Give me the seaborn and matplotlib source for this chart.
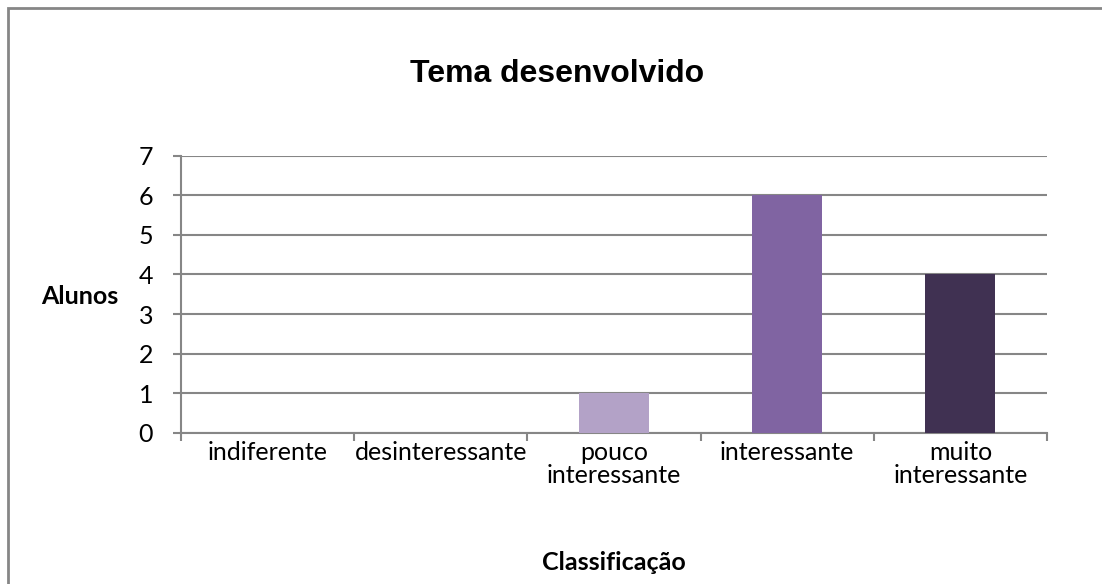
import matplotlib
matplotlib.use("Agg")
import matplotlib.pyplot as plt
import seaborn as sns
import pandas as pd
from matplotlib.patches import Rectangle
from matplotlib.ticker import FixedLocator

categorias = ["indiferente", "desinteressante", "pouco\ninteressante", "interessante", "muito\ninteressante"]
alunos = [0, 0, 1, 6, 4]
cores = ["#B3A2C7", "#B3A2C7", "#B3A2C7", "#8064A2", "#403152"]
yticks = [0, 1, 2, 3, 4, 5, 6, 7]

sns.set_theme(style="white")
plt.rcParams["font.family"] = ["Lato", "DejaVu Sans"]
plt.rcParams["text.color"] = "black"
plt.rcParams["ytick.labelcolor"] = "black"

df = pd.DataFrame({"cat": categorias, "val": alunos})

fig = plt.figure(figsize=(11.02, 5.84), dpi=100)
ax = fig.add_axes([181/1102, 1-433/584, (1047-181)/1102, (433-155.6)/584])

sns.barplot(data=df, x="cat", y="val", hue="cat", palette=cores, legend=False,
            width=0.405, ax=ax, saturation=1, zorder=3, linewidth=0)

grid_c = "#868686"
ax.set_ylim(0, 7)
ax.set_xlim(-0.5, 4.5)
ax.set_yticks(yticks)
ax.yaxis.grid(True, color=grid_c, linewidth=1.5, zorder=0)
ax.set_axisbelow(True)
for s in ["top", "right"]:
    ax.spines[s].set_visible(False)
for s in ["left", "bottom"]:
    ax.spines[s].set_color(grid_c)
    ax.spines[s].set_linewidth(1.5)

ax.set_xticks([])
ax.xaxis.set_minor_locator(FixedLocator([-0.5, 0.5, 1.5, 2.5, 3.5, 4.5]))
ax.tick_params(axis="x", which="minor", length=6, width=1.5, color=grid_c, direction="out", bottom=True)
ax.tick_params(axis="y", length=6, width=1.5, color=grid_c, direction="out", left=True,
               labelsize=18, pad=14, labelcolor="black")

for i, c in enumerate(categorias):
    ax.text(i, -0.20, c, ha="center", va="top", fontsize=18, linespacing=1.0,
            color="black", transform=ax.transData)

ax.set_xlabel("")
ax.set_ylabel("")
fig.text(80/1102, 1-297/584, "Alunos", ha="center", va="center", fontsize=18, fontweight="bold", color="black")
fig.text(614/1102, 1-563/584, "Classificação", ha="center", va="center", fontsize=18, fontweight="bold", color="black")
fig.text(557/1102, 1-74/584, "Tema desenvolvido", ha="center", va="center", fontsize=23,
         fontweight="bold", color="black", family=["Liberation Sans", "DejaVu Sans"])

fig.patches.append(Rectangle((8/1102, -0.1), 1.2, 1.1 - 8/584, transform=fig.transFigure,
                             fill=False, edgecolor="#868686", linewidth=2))

fig.savefig("out.png", dpi=100)
